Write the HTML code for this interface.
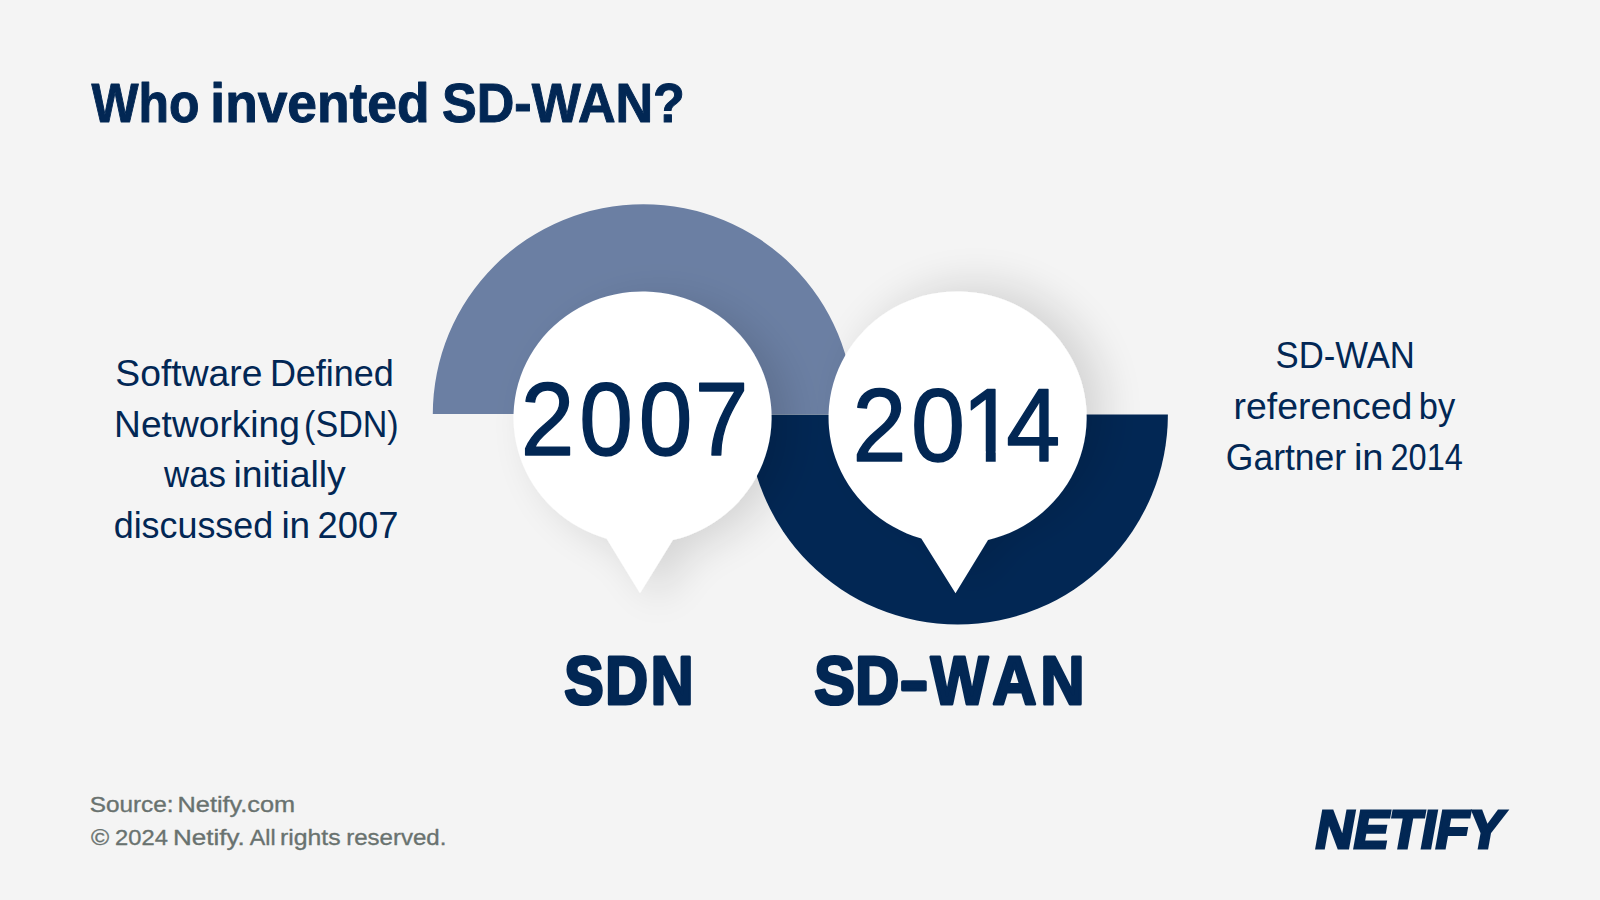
<!DOCTYPE html>
<html lang="en">
<head>
<meta charset="utf-8">
<title>Who invented SD-WAN?</title>
<style>
html,body{margin:0;padding:0;background:#f4f4f4;}
body{width:1600px;height:900px;overflow:hidden;}
svg{display:block;}
svg text{font-family:"Liberation Sans",sans-serif;white-space:pre;}
</style>
</head>
<body>
<svg width="1600" height="900" viewBox="0 0 1600 900">
<defs>
<filter id="sh1" x="-40%" y="-40%" width="180%" height="180%">
<feGaussianBlur in="SourceAlpha" stdDeviation="21"/>
<feOffset dx="18" dy="8"/>
<feComponentTransfer><feFuncA type="linear" slope="0.13"/></feComponentTransfer>
<feMerge><feMergeNode/><feMergeNode in="SourceGraphic"/></feMerge>
</filter>
<filter id="sh2" x="-40%" y="-40%" width="180%" height="180%">
<feGaussianBlur in="SourceAlpha" stdDeviation="21"/>
<feOffset dx="18" dy="-8"/>
<feComponentTransfer><feFuncA type="linear" slope="0.13"/></feComponentTransfer>
<feMerge><feMergeNode/><feMergeNode in="SourceGraphic"/></feMerge>
</filter>
</defs>
<rect width="1600" height="900" fill="#f4f4f4"/>
<!-- arcs -->
<path d="M432.8 414.1 A210.6 210.05 0 0 1 854 414.1 Z" fill="#6b7fa3"/>
<path d="M747.6 414.4 A210.15 210.15 0 0 0 1167.9 414.4 Z" fill="#022754"/>
<!-- bubbles -->
<path d="M672.8 540.09 A129.05 126.1 0 1 0 606.7 538.64 L640 593.3 Z" fill="#fff" filter="url(#sh1)"/>
<path d="M988 540.05 A129.05 126.1 0 1 0 921.3 538.51 L955.5 593.3 Z" fill="#fff" filter="url(#sh2)"/>
<!-- years -->
<text transform="scale(0.9374 1)" x="555.61 618.08 681.34 741.03" y="454.69" font-size="102.9" font-weight="400" fill="#022754" stroke="#022754" stroke-width="1.4" stroke-linejoin="round">2007</text>
<text transform="scale(0.9419 1)" x="905.21 967.26 1021.4 1068.43" y="460.59" font-size="103.04" font-weight="400" fill="#022754" stroke="#022754" stroke-width="1.4" stroke-linejoin="round">2014</text><rect x="967.62" y="451.49" width="18.19" height="10.65" fill="#fff"/><rect x="995.70" y="451.49" width="17.25" height="10.65" fill="#fff"/>
<!-- copy -->
<text y="122.1" font-size="54.69" font-weight="700" fill="#022754" stroke="#022754" stroke-width="1.0" stroke-linejoin="round"><tspan x="91.5" textLength="108.08" lengthAdjust="spacingAndGlyphs">Who</tspan> <tspan x="210.35" textLength="219.21" lengthAdjust="spacingAndGlyphs">invented</tspan> <tspan x="442.0" textLength="242.91" lengthAdjust="spacingAndGlyphs">SD-WAN?</tspan></text>
<text y="385.9" font-size="37.53" font-weight="400" fill="#022754"><tspan x="115.35" textLength="147.09" lengthAdjust="spacingAndGlyphs">Software</tspan> <tspan x="269.9" textLength="123.99" lengthAdjust="spacingAndGlyphs">Defined</tspan></text>
<text y="437.3" font-size="37.53" font-weight="400" fill="#022754"><tspan x="114.1" textLength="185.85" lengthAdjust="spacingAndGlyphs">Networking</tspan> <tspan x="304.1" textLength="94.54" lengthAdjust="spacingAndGlyphs">(SDN)</tspan></text>
<text y="486.7" font-size="37.53" font-weight="400" fill="#022754"><tspan x="164.0" textLength="62.07" lengthAdjust="spacingAndGlyphs">was</tspan> <tspan x="233.5" textLength="112.29" lengthAdjust="spacingAndGlyphs">initially</tspan></text>
<text y="537.6" font-size="37.53" font-weight="400" fill="#022754"><tspan x="113.7" textLength="159.46" lengthAdjust="spacingAndGlyphs">discussed</tspan> <tspan x="281.4" textLength="28.78" lengthAdjust="spacingAndGlyphs">in</tspan> <tspan x="317.55" textLength="80.9" lengthAdjust="spacingAndGlyphs">2007</tspan></text>
<text y="368.0" font-size="37.53" font-weight="400" fill="#022754"><tspan x="1275.5" textLength="139.39" lengthAdjust="spacingAndGlyphs">SD-WAN</tspan></text>
<text y="418.6" font-size="37.53" font-weight="400" fill="#022754"><tspan x="1233.5" textLength="178.85" lengthAdjust="spacingAndGlyphs">referenced</tspan> <tspan x="1418.75" textLength="36.41" lengthAdjust="spacingAndGlyphs">by</tspan></text>
<text y="469.6" font-size="37.53" font-weight="400" fill="#022754"><tspan x="1225.85" textLength="120.31" lengthAdjust="spacingAndGlyphs">Gartner</tspan> <tspan x="1353.9" textLength="29.62" lengthAdjust="spacingAndGlyphs">in</tspan> <tspan x="1390.5" textLength="72.32" lengthAdjust="spacingAndGlyphs">2014</tspan></text>
<text transform="scale(0.8647 1)" x="652.69 699.86 752.55" y="704.4" font-size="68.44" font-weight="700" fill="#022754" stroke="#022754" stroke-width="3.2" stroke-linejoin="round">SDN</text>
<text transform="scale(0.8888 1)" x="916.25 962.22" y="704.4" font-size="68.44" font-weight="700" fill="#022754" stroke="#022754" stroke-width="3.2" stroke-linejoin="round">SD<tspan x="1012.23" textLength="32.01" lengthAdjust="spacingAndGlyphs">-</tspan><tspan x="1047.17 1116.8 1170.63">WAN</tspan></text>
<text y="812.33" font-size="22.76" font-weight="400" fill="#69726f" stroke="#69726f" stroke-width="0.35" stroke-linejoin="round"><tspan x="89.7" textLength="83.81" lengthAdjust="spacingAndGlyphs">Source:</tspan> <tspan x="177.55" textLength="117.6" lengthAdjust="spacingAndGlyphs">Netify.com</tspan></text>
<text y="845.12" font-size="22.76" font-weight="400" fill="#69726f" stroke="#69726f" stroke-width="0.35" stroke-linejoin="round"><tspan x="90.95" textLength="18.16" lengthAdjust="spacingAndGlyphs">©</tspan> <tspan x="115.1" textLength="52.73" lengthAdjust="spacingAndGlyphs">2024</tspan> <tspan x="173.0" textLength="71.75" lengthAdjust="spacingAndGlyphs">Netify.</tspan> <tspan x="249.8" textLength="25.82" lengthAdjust="spacingAndGlyphs">All</tspan> <tspan x="279.9" textLength="60.66" lengthAdjust="spacingAndGlyphs">rights</tspan> <tspan x="346.2" textLength="100.17" lengthAdjust="spacingAndGlyphs">reserved.</tspan></text>
<!-- logo -->
<g transform="translate(1314.9 849.7) skewX(-10.2)">
<text x="-2.0" y="-1.5" font-size="53.82" font-weight="700" fill="#022754" stroke="#022754" stroke-width="3.0" stroke-linejoin="miter" textLength="187.64" lengthAdjust="spacingAndGlyphs">NETIFY</text>
</g>
</svg>
</body>
</html>
